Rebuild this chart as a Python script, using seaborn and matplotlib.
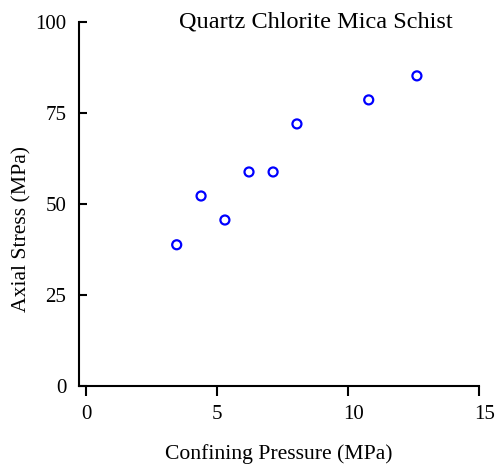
import matplotlib
matplotlib.use("Agg")
import matplotlib.pyplot as plt
import matplotlib.transforms as mtrans
import seaborn as sns
import pandas as pd

confining = [3.46, 4.39, 5.3, 6.22, 7.14, 8.05, 10.79, 12.63]
axial = [38.8, 52.2, 45.6, 58.8, 58.8, 72.0, 78.6, 85.2]
x_ticks = [0, 5, 10, 15]
y_ticks = [0, 25, 50, 75, 100]
title = "Quartz Chlorite Mica Schist"

sns.set_theme(style="white")
plt.rcParams['font.family'] = ['Liberation Serif', 'DejaVu Serif']
plt.rcParams['text.color'] = 'black'
plt.rcParams['axes.labelcolor'] = 'black'
plt.rcParams['xtick.color'] = 'black'
plt.rcParams['ytick.color'] = 'black'

df = pd.DataFrame({"Confining Pressure (MPa)": confining, "Axial Stress (MPa)": axial})

fig = plt.figure(figsize=(4.97, 4.65), dpi=100)
ax = fig.add_axes([79/497, 1 - 386/465, (479-79)/497, (386-22)/465])
sns.scatterplot(data=df, x="Confining Pressure (MPa)", y="Axial Stress (MPa)", ax=ax,
                marker="o", s=42, facecolor="none", edgecolor="#0000ff", linewidth=1.6)
ax.set_xlim(-0.27, 15)
ax.set_ylim(0, 100)
ax.set_xticks(x_ticks)
ax.set_yticks(y_ticks)
ax.set_xticklabels([str(v) for v in x_ticks], fontsize=15)
ax.set_yticklabels([str(v) for v in y_ticks], fontsize=15)
ax.tick_params(axis='x', direction='out', length=7, width=1.5, pad=7, bottom=True)
ax.tick_params(axis='y', direction='in', length=6, width=1.5, pad=9, left=True)
shift = mtrans.ScaledTranslation(-5/100, 0, fig.dpi_scale_trans)
for lab in ax.get_xticklabels():
    lab.set_horizontalalignment('left')
    lab.set_transform(lab.get_transform() + shift)
for s in ['top', 'right']:
    ax.spines[s].set_visible(False)
for s in ['left', 'bottom']:
    ax.spines[s].set_color('black')
    ax.spines[s].set_linewidth(1.5)
ax.set_xlabel("Confining Pressure (MPa)", fontsize=15.6, labelpad=14)
ax.set_ylabel("Axial Stress (MPa)", fontsize=15.6, labelpad=3, y=0.43)
ax.text(8.76, 100, title, fontsize=17.5, ha='center', va='center')
ax.grid(False)
fig.savefig("out.png", dpi=100)
